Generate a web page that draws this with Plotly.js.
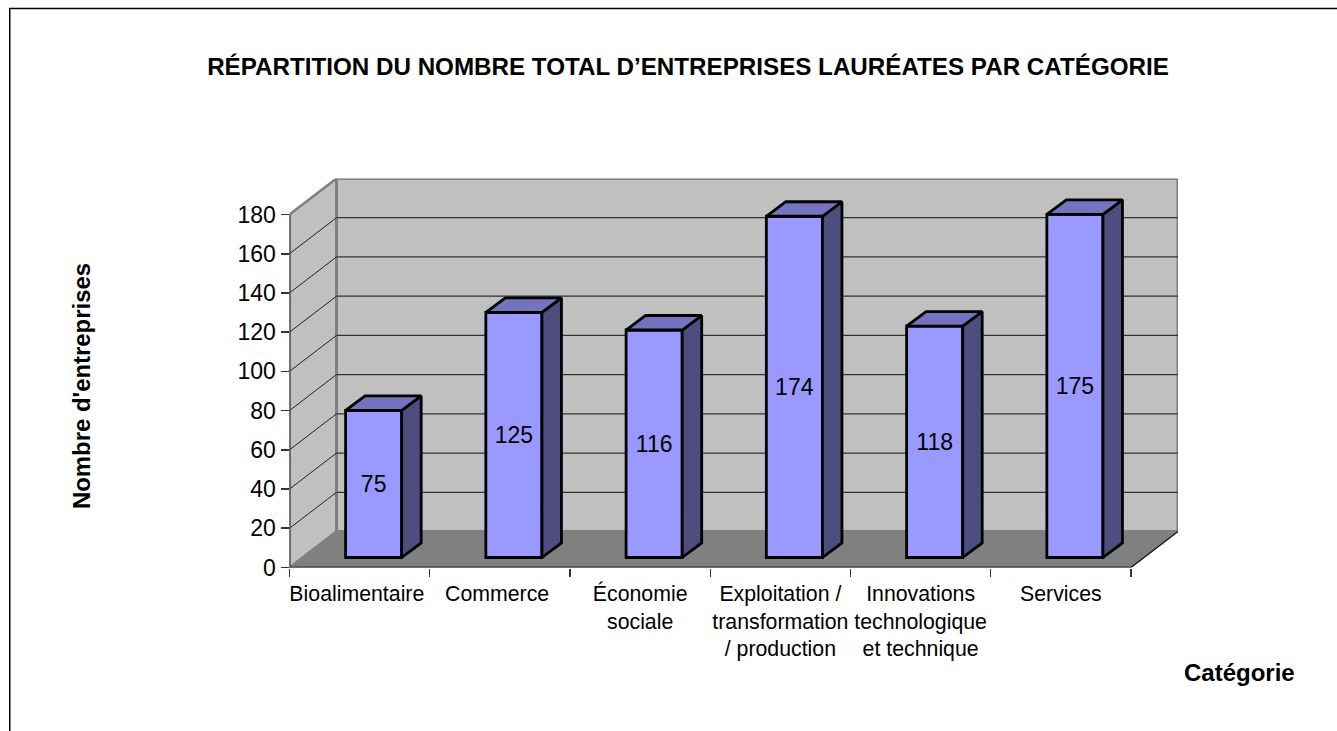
<!DOCTYPE html>
<html>
<head>
<meta charset="utf-8">
<script src="https://cdn.plot.ly/plotly-3.0.1.min.js"></script>
<style>html,body{margin:0;padding:0;background:#fff;overflow:hidden}#chart{width:1337px;height:731px}</style>
</head>
<body>
<div id="chart"></div>
<script>
const categories = ["Bioalimentaire","Commerce","Économie<br>sociale","Exploitation /<br>transformation<br>/ production","Innovations<br>technologique<br>et technique","Services"];
const values = [75,125,116,174,118,175];
const yTicks = [0,20,40,60,80,100,120,140,160,180];
const chartTitle = "RÉPARTITION DU NOMBRE TOTAL D’ENTREPRISES LAURÉATES PAR CATÉGORIE";
const yTitle = "Nombre d'entreprises";
const xTitle = "Catégorie";

const W = 1337, H = 731;
const px = {left:289.5, front:1131, right:1178, bottom:567.5, top:178.5, y180:214.5};
const perCat = (px.front - px.left) / categories.length;
const perUnit = (px.bottom - px.y180) / 180;
const depthX = (px.right - px.front) / perCat;
const depthY = (px.bottom - 531.5) / perUnit;
const yMax = 180, n = categories.length;
const barOffset = 0.6, barW = 0.4, barBase = 5.1, barDX = 0.139, barDY = 7.4;
const labelShift = [-0.02,-0.02,0,0,0,0];
const fx = v => v / W, fy = v => 1 - v / H;
const FONT = "Liberation Sans, Arial, sans-serif";
const ink = "#000", wallEdge = "#808080";

function poly(pts){ return "M" + pts.map(p => p[0] + " " + p[1]).join(" L") + " Z"; }
function seg(x0,y0,x1,y1,color,width,layer){
  return {type:"line",xref:"x",yref:"y",x0,y0,x1,y1,layer:layer||"below",line:{color,width}};
}
const shapes = [
  {type:"path",xref:"x",yref:"y",layer:"below",path:poly([[0,0],[depthX,depthY],[depthX,yMax+depthY],[0,yMax]]),fillcolor:"#C0C0C0",line:{color:wallEdge,width:2.5}},
  {type:"path",xref:"x",yref:"y",layer:"below",path:poly([[depthX,depthY],[n+depthX,depthY],[n+depthX,yMax+depthY],[depthX,yMax+depthY]]),fillcolor:"#C0C0C0",line:{color:wallEdge,width:3}},
  {type:"path",xref:"x",yref:"y",layer:"below",path:poly([[0,0],[n,0],[n+depthX,depthY],[depthX,depthY]]),fillcolor:"#808080",line:{color:wallEdge,width:1}}
];
yTicks.filter(t => t > 0 && t < yMax).forEach(t => {
  shapes.push(seg(0,t,depthX,t+depthY,"#222",1));
  shapes.push(seg(depthX,t+depthY,n+depthX,t+depthY,"#333",1.2));
});
shapes.push(seg(0,0,0,yMax,"#333",1.8,"above"));
shapes.push(seg(0,0,n,0,"#333",1.8,"above"));
shapes.push(seg(n,0,n+depthX,depthY,"#111",1.2,"below"));
shapes.push({type:"line",xref:"paper",yref:"paper",x0:fx(9),x1:1,y0:fy(8.5),y1:fy(8.5),line:{color:"#000",width:1.5}});
shapes.push({type:"line",xref:"paper",yref:"paper",x0:fx(9.5),x1:fx(9.5),y0:fy(8),y1:0,line:{color:"#000",width:1}});
shapes.push({type:"line",xref:"paper",yref:"paper",x0:fx(10.5),x1:fx(10.5),y0:fy(9),y1:0,line:{color:"#808080",width:1}});

const sideX=[], sideY=[], topX=[], topY=[];
values.forEach((v,i) => {
  const l = i + barOffset - barW/2, r = i + barOffset + barW/2, b = barBase, t = barBase + v;
  sideX.push(r, r+barDX, r+barDX, r, r, null);
  sideY.push(b, b+barDY, t+barDY, t, b, null);
  topX.push(l, r, r+barDX, l+barDX, l, null);
  topY.push(t, t, t+barDY, t+barDY, t, null);
});

const barsX = values.map((_,i) => i + barOffset);
const traces = [
  {type:"bar",x:barsX,y:values,base:values.map(()=>barBase),width:barW,
   marker:{color:"#9999FF",line:{color:ink,width:2.8}},
   text:values.map(String),textposition:"inside",insidetextanchor:"middle",textangle:0,
   insidetextfont:{family:FONT,size:23,color:"#000"},cliponaxis:false,hoverinfo:"skip"},
  {type:"scatter",mode:"lines",x:sideX,y:sideY,fill:"toself",fillcolor:"#4D4D80",line:{color:ink,width:2.8},hoverinfo:"skip"},
  {type:"scatter",mode:"lines",x:topX,y:topY,fill:"toself",fillcolor:"#7373BF",line:{color:ink,width:2.8},hoverinfo:"skip"},
  {type:"scatter",mode:"markers",xaxis:"x2",y:[null],x:[null],hoverinfo:"skip"}
];

const xDomain = [px.left/W, px.right/W];
const layout = {
  width:W,height:H,margin:{l:0,r:0,t:0,b:0},autosize:false,
  paper_bgcolor:"#fff",plot_bgcolor:"rgba(0,0,0,0)",showlegend:false,hovermode:false,
  font:{family:FONT,color:"#000"},
  title:{text:"<b>"+chartTitle+"</b>",font:{family:FONT,size:24.2,color:"#000"},x:688/W,xanchor:"center",xref:"paper",y:1-67/H,yanchor:"middle",yref:"paper"},
  xaxis:{domain:xDomain,range:[0,n+depthX],tickmode:"array",tickvals:categories.map((_,i)=>i).concat([n]),showticklabels:false,ticks:"outside",ticklen:8,tickcolor:"#333",tickwidth:1.2,showgrid:false,zeroline:false,showline:false,anchor:"y"},
  xaxis2:{domain:xDomain,range:[0,n+depthX],overlaying:"x",anchor:"y",side:"bottom",tickmode:"array",tickvals:categories.map((_,i)=>i+0.5+labelShift[i]),ticktext:categories,ticks:"outside",ticklen:7,tickcolor:"rgba(0,0,0,0)",tickfont:{family:FONT,size:21.3,color:"#000"},showgrid:false,zeroline:false,showline:false},
  yaxis:{domain:[1-px.bottom/H,1-px.top/H],range:[0,yMax+depthY],tickmode:"array",tickvals:yTicks,ticktext:yTicks.map(String),ticks:"outside",ticklen:8,tickcolor:"#333",tickwidth:1.6,tickfont:{family:FONT,size:23,color:"#000"},showgrid:false,zeroline:false,showline:false},
  shapes:shapes,
  annotations:[
    {xref:"paper",yref:"paper",x:81/W,y:1-386/H,text:"<b>"+yTitle+"</b>",textangle:-90,showarrow:false,font:{family:FONT,size:23.9,color:"#000"},xanchor:"center",yanchor:"middle"},
    {xref:"paper",yref:"paper",x:1239.5/W,y:1-672/H,text:"<b>"+xTitle+"</b>",showarrow:false,font:{family:FONT,size:24,color:"#000"},xanchor:"center",yanchor:"middle"}
  ]
};
Plotly.newPlot("chart",traces,layout,{displayModeBar:false,staticPlot:true});
</script>
</body>
</html>
